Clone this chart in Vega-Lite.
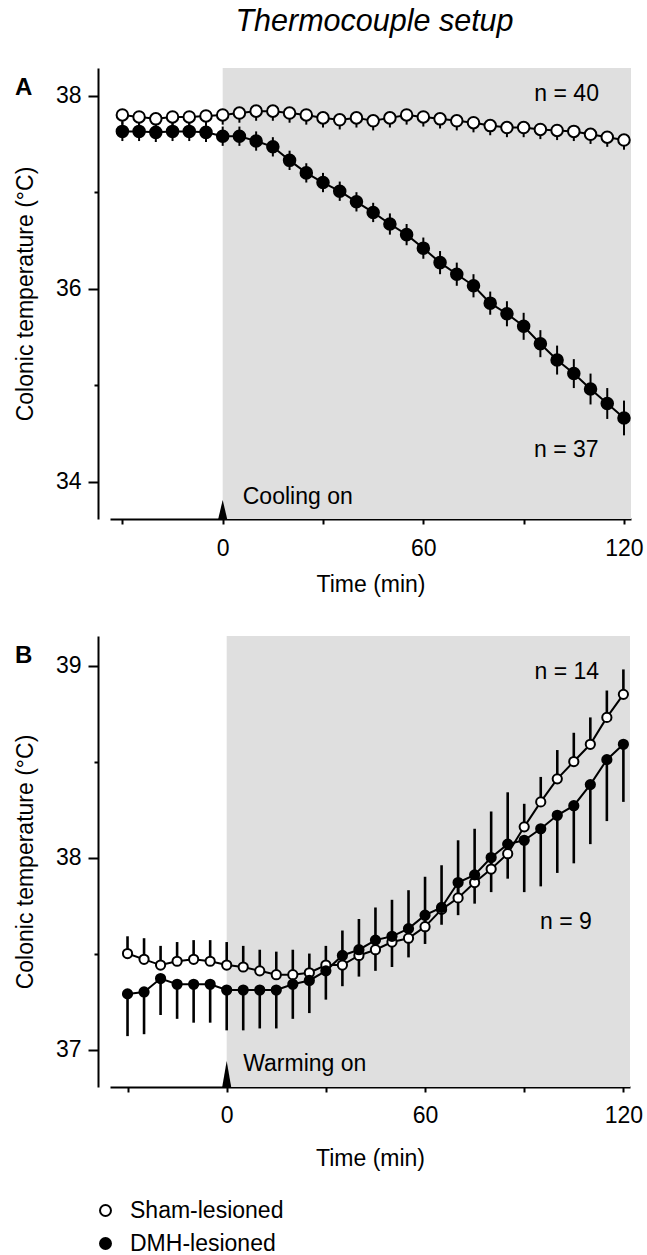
{
  "$schema": "https://vega.github.io/schema/vega-lite/v6.json",
  "background": "white",
  "padding": {"left": 14, "top": 6, "right": 5, "bottom": 0},
  "config": {
    "font": "Liberation Sans",
    "view": {"stroke": null},
    "axis": {"grid": false, "domainColor": "black", "domainWidth": 2, "tickColor": "black", "tickWidth": 2, "labelColor": "black", "labelFontSize": 23, "titleFontSize": 23, "titleFontWeight": "normal", "titleColor": "black", "labelFlush": false, "labelOverlap": false}
  },
  "datasets": {
    "a": [
      {"t":-30,"group":"Sham-lesioned","m":37.80,"lo":37.70,"hi":37.80},
      {"t":-25,"group":"Sham-lesioned","m":37.78,"lo":37.68,"hi":37.78},
      {"t":-20,"group":"Sham-lesioned","m":37.76,"lo":37.66,"hi":37.76},
      {"t":-15,"group":"Sham-lesioned","m":37.78,"lo":37.68,"hi":37.78},
      {"t":-10,"group":"Sham-lesioned","m":37.78,"lo":37.68,"hi":37.78},
      {"t":-5,"group":"Sham-lesioned","m":37.79,"lo":37.69,"hi":37.79},
      {"t":0,"group":"Sham-lesioned","m":37.80,"lo":37.70,"hi":37.80},
      {"t":5,"group":"Sham-lesioned","m":37.82,"lo":37.72,"hi":37.82},
      {"t":10,"group":"Sham-lesioned","m":37.84,"lo":37.74,"hi":37.84},
      {"t":15,"group":"Sham-lesioned","m":37.84,"lo":37.74,"hi":37.84},
      {"t":20,"group":"Sham-lesioned","m":37.82,"lo":37.72,"hi":37.82},
      {"t":25,"group":"Sham-lesioned","m":37.80,"lo":37.70,"hi":37.80},
      {"t":30,"group":"Sham-lesioned","m":37.77,"lo":37.67,"hi":37.77},
      {"t":35,"group":"Sham-lesioned","m":37.75,"lo":37.65,"hi":37.75},
      {"t":40,"group":"Sham-lesioned","m":37.77,"lo":37.67,"hi":37.77},
      {"t":45,"group":"Sham-lesioned","m":37.74,"lo":37.64,"hi":37.74},
      {"t":50,"group":"Sham-lesioned","m":37.77,"lo":37.67,"hi":37.77},
      {"t":55,"group":"Sham-lesioned","m":37.80,"lo":37.70,"hi":37.80},
      {"t":60,"group":"Sham-lesioned","m":37.78,"lo":37.68,"hi":37.78},
      {"t":65,"group":"Sham-lesioned","m":37.76,"lo":37.66,"hi":37.76},
      {"t":70,"group":"Sham-lesioned","m":37.74,"lo":37.64,"hi":37.74},
      {"t":75,"group":"Sham-lesioned","m":37.72,"lo":37.62,"hi":37.72},
      {"t":80,"group":"Sham-lesioned","m":37.69,"lo":37.59,"hi":37.69},
      {"t":85,"group":"Sham-lesioned","m":37.67,"lo":37.57,"hi":37.67},
      {"t":90,"group":"Sham-lesioned","m":37.67,"lo":37.57,"hi":37.67},
      {"t":95,"group":"Sham-lesioned","m":37.65,"lo":37.55,"hi":37.65},
      {"t":100,"group":"Sham-lesioned","m":37.64,"lo":37.54,"hi":37.64},
      {"t":105,"group":"Sham-lesioned","m":37.63,"lo":37.53,"hi":37.63},
      {"t":110,"group":"Sham-lesioned","m":37.60,"lo":37.50,"hi":37.60},
      {"t":115,"group":"Sham-lesioned","m":37.57,"lo":37.47,"hi":37.57},
      {"t":120,"group":"Sham-lesioned","m":37.54,"lo":37.44,"hi":37.54},
      {"t":-30,"group":"DMH-lesioned","m":37.63,"lo":37.53,"hi":37.73},
      {"t":-25,"group":"DMH-lesioned","m":37.63,"lo":37.53,"hi":37.73},
      {"t":-20,"group":"DMH-lesioned","m":37.62,"lo":37.52,"hi":37.72},
      {"t":-15,"group":"DMH-lesioned","m":37.63,"lo":37.53,"hi":37.73},
      {"t":-10,"group":"DMH-lesioned","m":37.63,"lo":37.53,"hi":37.73},
      {"t":-5,"group":"DMH-lesioned","m":37.62,"lo":37.52,"hi":37.72},
      {"t":0,"group":"DMH-lesioned","m":37.58,"lo":37.48,"hi":37.68},
      {"t":5,"group":"DMH-lesioned","m":37.58,"lo":37.48,"hi":37.68},
      {"t":10,"group":"DMH-lesioned","m":37.53,"lo":37.43,"hi":37.63},
      {"t":15,"group":"DMH-lesioned","m":37.47,"lo":37.37,"hi":37.57},
      {"t":20,"group":"DMH-lesioned","m":37.33,"lo":37.23,"hi":37.43},
      {"t":25,"group":"DMH-lesioned","m":37.20,"lo":37.10,"hi":37.30},
      {"t":30,"group":"DMH-lesioned","m":37.10,"lo":37.00,"hi":37.20},
      {"t":35,"group":"DMH-lesioned","m":37.01,"lo":36.91,"hi":37.11},
      {"t":40,"group":"DMH-lesioned","m":36.90,"lo":36.80,"hi":37.00},
      {"t":45,"group":"DMH-lesioned","m":36.79,"lo":36.69,"hi":36.89},
      {"t":50,"group":"DMH-lesioned","m":36.67,"lo":36.56,"hi":36.78},
      {"t":55,"group":"DMH-lesioned","m":36.56,"lo":36.45,"hi":36.67},
      {"t":60,"group":"DMH-lesioned","m":36.42,"lo":36.31,"hi":36.53},
      {"t":65,"group":"DMH-lesioned","m":36.27,"lo":36.15,"hi":36.39},
      {"t":70,"group":"DMH-lesioned","m":36.15,"lo":36.03,"hi":36.27},
      {"t":75,"group":"DMH-lesioned","m":36.03,"lo":35.91,"hi":36.15},
      {"t":80,"group":"DMH-lesioned","m":35.85,"lo":35.73,"hi":35.97},
      {"t":85,"group":"DMH-lesioned","m":35.74,"lo":35.61,"hi":35.87},
      {"t":90,"group":"DMH-lesioned","m":35.61,"lo":35.47,"hi":35.75},
      {"t":95,"group":"DMH-lesioned","m":35.43,"lo":35.29,"hi":35.57},
      {"t":100,"group":"DMH-lesioned","m":35.26,"lo":35.11,"hi":35.41},
      {"t":105,"group":"DMH-lesioned","m":35.12,"lo":34.97,"hi":35.27},
      {"t":110,"group":"DMH-lesioned","m":34.96,"lo":34.80,"hi":35.12},
      {"t":115,"group":"DMH-lesioned","m":34.81,"lo":34.65,"hi":34.97},
      {"t":120,"group":"DMH-lesioned","m":34.66,"lo":34.48,"hi":34.84}
    ],
    "b": [
      {"t":-30,"group":"Sham-lesioned","m":37.50,"lo":37.50,"hi":37.59},
      {"t":-25,"group":"Sham-lesioned","m":37.47,"lo":37.47,"hi":37.58},
      {"t":-20,"group":"Sham-lesioned","m":37.44,"lo":37.44,"hi":37.54},
      {"t":-15,"group":"Sham-lesioned","m":37.46,"lo":37.46,"hi":37.56},
      {"t":-10,"group":"Sham-lesioned","m":37.47,"lo":37.47,"hi":37.57},
      {"t":-5,"group":"Sham-lesioned","m":37.46,"lo":37.46,"hi":37.57},
      {"t":0,"group":"Sham-lesioned","m":37.44,"lo":37.44,"hi":37.56},
      {"t":5,"group":"Sham-lesioned","m":37.43,"lo":37.43,"hi":37.54},
      {"t":10,"group":"Sham-lesioned","m":37.41,"lo":37.41,"hi":37.52},
      {"t":15,"group":"Sham-lesioned","m":37.39,"lo":37.39,"hi":37.51},
      {"t":20,"group":"Sham-lesioned","m":37.39,"lo":37.39,"hi":37.52},
      {"t":25,"group":"Sham-lesioned","m":37.40,"lo":37.40,"hi":37.50},
      {"t":30,"group":"Sham-lesioned","m":37.44,"lo":37.44,"hi":37.54},
      {"t":35,"group":"Sham-lesioned","m":37.44,"lo":37.44,"hi":37.62},
      {"t":40,"group":"Sham-lesioned","m":37.49,"lo":37.49,"hi":37.68},
      {"t":45,"group":"Sham-lesioned","m":37.52,"lo":37.52,"hi":37.74},
      {"t":50,"group":"Sham-lesioned","m":37.56,"lo":37.56,"hi":37.78},
      {"t":55,"group":"Sham-lesioned","m":37.58,"lo":37.58,"hi":37.83},
      {"t":60,"group":"Sham-lesioned","m":37.64,"lo":37.64,"hi":37.90},
      {"t":65,"group":"Sham-lesioned","m":37.73,"lo":37.73,"hi":37.96},
      {"t":70,"group":"Sham-lesioned","m":37.79,"lo":37.79,"hi":38.09},
      {"t":75,"group":"Sham-lesioned","m":37.87,"lo":37.87,"hi":38.15},
      {"t":80,"group":"Sham-lesioned","m":37.94,"lo":37.94,"hi":38.24},
      {"t":85,"group":"Sham-lesioned","m":38.02,"lo":38.02,"hi":38.34},
      {"t":90,"group":"Sham-lesioned","m":38.16,"lo":38.16,"hi":38.28},
      {"t":95,"group":"Sham-lesioned","m":38.29,"lo":38.29,"hi":38.42},
      {"t":100,"group":"Sham-lesioned","m":38.41,"lo":38.41,"hi":38.56},
      {"t":105,"group":"Sham-lesioned","m":38.50,"lo":38.50,"hi":38.65},
      {"t":110,"group":"Sham-lesioned","m":38.59,"lo":38.59,"hi":38.73},
      {"t":115,"group":"Sham-lesioned","m":38.73,"lo":38.73,"hi":38.87},
      {"t":120,"group":"Sham-lesioned","m":38.85,"lo":38.85,"hi":38.98},
      {"t":-30,"group":"DMH-lesioned","m":37.29,"lo":37.07,"hi":37.29},
      {"t":-25,"group":"DMH-lesioned","m":37.30,"lo":37.08,"hi":37.30},
      {"t":-20,"group":"DMH-lesioned","m":37.37,"lo":37.18,"hi":37.37},
      {"t":-15,"group":"DMH-lesioned","m":37.34,"lo":37.16,"hi":37.34},
      {"t":-10,"group":"DMH-lesioned","m":37.34,"lo":37.14,"hi":37.34},
      {"t":-5,"group":"DMH-lesioned","m":37.34,"lo":37.14,"hi":37.34},
      {"t":0,"group":"DMH-lesioned","m":37.31,"lo":37.10,"hi":37.31},
      {"t":5,"group":"DMH-lesioned","m":37.31,"lo":37.10,"hi":37.31},
      {"t":10,"group":"DMH-lesioned","m":37.31,"lo":37.11,"hi":37.31},
      {"t":15,"group":"DMH-lesioned","m":37.31,"lo":37.11,"hi":37.31},
      {"t":20,"group":"DMH-lesioned","m":37.34,"lo":37.16,"hi":37.34},
      {"t":25,"group":"DMH-lesioned","m":37.36,"lo":37.19,"hi":37.36},
      {"t":30,"group":"DMH-lesioned","m":37.41,"lo":37.26,"hi":37.41},
      {"t":35,"group":"DMH-lesioned","m":37.49,"lo":37.33,"hi":37.49},
      {"t":40,"group":"DMH-lesioned","m":37.52,"lo":37.38,"hi":37.52},
      {"t":45,"group":"DMH-lesioned","m":37.57,"lo":37.41,"hi":37.57},
      {"t":50,"group":"DMH-lesioned","m":37.59,"lo":37.43,"hi":37.59},
      {"t":55,"group":"DMH-lesioned","m":37.63,"lo":37.48,"hi":37.63},
      {"t":60,"group":"DMH-lesioned","m":37.70,"lo":37.55,"hi":37.70},
      {"t":65,"group":"DMH-lesioned","m":37.74,"lo":37.65,"hi":37.74},
      {"t":70,"group":"DMH-lesioned","m":37.87,"lo":37.70,"hi":37.87},
      {"t":75,"group":"DMH-lesioned","m":37.91,"lo":37.76,"hi":37.91},
      {"t":80,"group":"DMH-lesioned","m":38.00,"lo":37.82,"hi":38.00},
      {"t":85,"group":"DMH-lesioned","m":38.07,"lo":37.89,"hi":38.07},
      {"t":90,"group":"DMH-lesioned","m":38.09,"lo":37.82,"hi":38.09},
      {"t":95,"group":"DMH-lesioned","m":38.15,"lo":37.85,"hi":38.15},
      {"t":100,"group":"DMH-lesioned","m":38.22,"lo":37.92,"hi":38.22},
      {"t":105,"group":"DMH-lesioned","m":38.27,"lo":37.97,"hi":38.27},
      {"t":110,"group":"DMH-lesioned","m":38.38,"lo":38.07,"hi":38.38},
      {"t":115,"group":"DMH-lesioned","m":38.51,"lo":38.19,"hi":38.51},
      {"t":120,"group":"DMH-lesioned","m":38.59,"lo":38.29,"hi":38.59}
    ]
  },
  "resolve": {"scale": {"fill": "independent"}, "legend": {"fill": "independent"}},
  "spacing": 40,
  "vconcat": [
    {
      "width": 521,
      "height": 451,
      "title": {"text": "Thermocouple setup", "fontSize": 30.5, "fontStyle": "italic", "fontWeight": "normal", "color": "black", "anchor": "middle", "frame": "group", "baseline": "alphabetic", "offset": 7, "dx": 4},
      "encoding": {
        "x": {"field": "t", "type": "quantitative",
          "scale": {"domain": [-33.7, 122.1], "nice": false, "zero": false},
          "axis": {"values": [-30, 0, 30, 60, 90, 120], "format": "d", "labelExpr": "datum.value % 60 == 0 ? datum.label : ''", "tickSize": 5, "labelPadding": 13, "title": "Time (min)", "titlePadding": 13}},
        "y": {"field": "m", "type": "quantitative",
          "scale": {"domain": [33.613, 38.287], "nice": false, "zero": false},
          "axis": {"values": [34, 35, 36, 37, 38], "format": "d", "labelExpr": "datum.value % 2 == 0 ? datum.label : ''", "tickSize": {"condition": {"test": "datum.value % 2 == 0", "value": 10}, "value": 4}, "offset": 12, "labelPadding": 7, "title": "Colonic temperature (°C)", "titlePadding": 18}}
      },
      "layer": [
        {"data": {"values": [{"t": 0, "t2": 122.1, "m": 33.613, "m2": 38.287}]},
         "mark": {"type": "rect", "color": "#dfdfdf"},
         "encoding": {"x2": {"field": "t2"}, "y2": {"field": "m2"}}},
        {"data": {"name": "a"},
         "mark": {"type": "rule", "color": "black", "strokeWidth": 2},
         "encoding": {"y": {"field": "lo", "type": "quantitative", "scale": {"domain": [33.613, 38.287], "nice": false, "zero": false}}, "y2": {"field": "hi"}}},
        {"data": {"name": "a"},
         "mark": {"type": "line", "color": "black", "strokeWidth": 2},
         "encoding": {"detail": {"field": "group"}}},
        {"data": {"name": "a"},
         "mark": {"type": "point", "shape": "circle", "filled": true, "stroke": "black", "strokeWidth": 2, "size": 133, "opacity": 1},
         "encoding": {"fill": {"field": "group", "type": "nominal", "scale": {"domain": ["Sham-lesioned", "DMH-lesioned"], "range": ["white", "black"]}, "legend": null}}},
        {"data": {"values": [{"t": 0, "m": 33.613}]},
         "mark": {"type": "point", "shape": "M-0.45,0L0,-1.9L0.45,0Z", "filled": true, "color": "black", "size": 400, "opacity": 1}},
        {"data": {"values": [{"t": 93.2, "m": 37.94, "label": "n = 40"}, {"t": 93.1, "m": 34.26, "label": "n = 37"}, {"t": 6, "m": 33.77, "label": "Cooling on"}]},
         "mark": {"type": "text", "align": "left", "baseline": "alphabetic", "fontSize": 23, "color": "black"},
         "encoding": {"text": {"field": "label"}}},
        {"data": {"values": [{"t": -62.1, "m": 38.007, "label": "A"}]},
         "mark": {"type": "text", "align": "left", "baseline": "alphabetic", "fontSize": 24, "fontWeight": "bold", "color": "black"},
         "encoding": {"text": {"field": "label"}}}
      ]
    },
    {
      "width": 520,
      "height": 451,
      "encoding": {
        "x": {"field": "t", "type": "quantitative",
          "scale": {"domain": [-35.3, 122.0], "nice": false, "zero": false},
          "axis": {"values": [-30, 0, 30, 60, 90, 120], "format": "d", "labelExpr": "datum.value % 60 == 0 ? datum.label : ''", "tickSize": 5, "labelPadding": 12, "title": "Time (min)", "titlePadding": 20}},
        "y": {"field": "m", "type": "quantitative",
          "scale": {"domain": [36.805, 39.154], "nice": false, "zero": false},
          "axis": {"values": [37, 37.5, 38, 38.5, 39], "format": ".0f", "labelExpr": "datum.value % 1 == 0 ? datum.label : ''", "tickSize": {"condition": {"test": "datum.value % 1 == 0", "value": 10}, "value": 4}, "offset": 12, "labelPadding": 7, "title": "Colonic temperature (°C)", "titlePadding": 18}}
      },
      "layer": [
        {"data": {"values": [{"t": 0, "t2": 122.0, "m": 36.805, "m2": 39.154}]},
         "mark": {"type": "rect", "color": "#dfdfdf"},
         "encoding": {"x2": {"field": "t2"}, "y2": {"field": "m2"}}},
        {"data": {"name": "b"},
         "mark": {"type": "rule", "color": "black", "strokeWidth": 2.6},
         "encoding": {"y": {"field": "lo", "type": "quantitative", "scale": {"domain": [36.805, 39.154], "nice": false, "zero": false}}, "y2": {"field": "hi"}}},
        {"data": {"name": "b"},
         "mark": {"type": "line", "color": "black", "strokeWidth": 2},
         "encoding": {"detail": {"field": "group"}}},
        {"data": {"name": "b"},
         "mark": {"type": "point", "shape": "circle", "filled": true, "stroke": "black", "strokeWidth": 2, "size": 85, "opacity": 1},
         "encoding": {"fill": {"field": "group", "type": "nominal", "scale": {"domain": ["Sham-lesioned", "DMH-lesioned"], "range": ["white", "black"]},
           "legend": {"title": null, "orient": "none", "legendX": -16, "legendY": 563, "direction": "vertical", "labelFontSize": 23, "labelColor": "black", "labelOffset": 13, "rowPadding": 9, "symbolType": "circle", "symbolSize": 120, "symbolStrokeColor": "black", "symbolStrokeWidth": 2, "symbolOpacity": 1}}}},
        {"data": {"values": [{"t": 0, "m": 36.805}]},
         "mark": {"type": "point", "shape": "M-0.45,0L0,-2.6L0.45,0Z", "filled": true, "color": "black", "size": 400, "opacity": 1}},
        {"data": {"values": [{"t": 93.1, "m": 38.93, "label": "n = 14"}, {"t": 94.8, "m": 37.63, "label": "n = 9"}, {"t": 5, "m": 36.89, "label": "Warming on"}]},
         "mark": {"type": "text", "align": "left", "baseline": "alphabetic", "fontSize": 23, "color": "black"},
         "encoding": {"text": {"field": "label"}}},
        {"data": {"values": [{"t": -64.05, "m": 39.013, "label": "B"}]},
         "mark": {"type": "text", "align": "left", "baseline": "alphabetic", "fontSize": 24, "fontWeight": "bold", "color": "black"},
         "encoding": {"text": {"field": "label"}}}
      ]
    }
  ]
}
